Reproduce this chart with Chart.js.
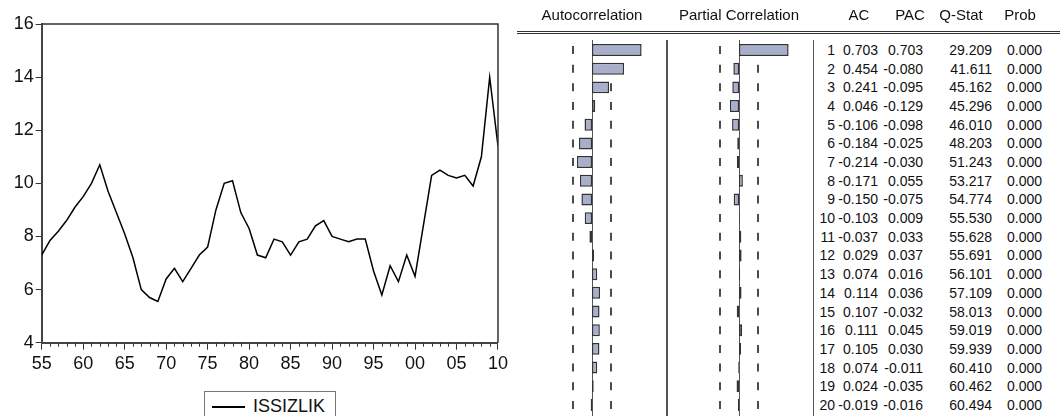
<!DOCTYPE html>
<html>
<head>
<meta charset="utf-8">
<script src="https://cdn.jsdelivr.net/npm/chart.js@4.4.0/dist/chart.umd.min.js"></script>
<style>
  html, body { margin:0; padding:0; background:#fff; width:1060px; height:416px; overflow:hidden;
    font-family:"Liberation Sans", Arial, sans-serif; color:#111; }
  #root { position:relative; width:1060px; height:416px; }
  .abs { position:absolute; }
  .txt { position:absolute; white-space:pre; font-size:14px; line-height:18px; color:#111; }
  .hdr { position:absolute; white-space:pre; font-size:15px; line-height:18px; color:#111; text-align:center; width:200px; }
</style>
</head>
<body>
<div id="root">
  <canvas id="lineChart" class="abs" width="512" height="383" style="left:0;top:0"></canvas>
  <div id="legend" class="abs" style="left:204px;top:391px;width:132px;height:30px;border:1px solid #777;box-sizing:border-box;">
    <div class="abs" style="left:7px;top:14px;width:33px;height:1.5px;background:#000"></div>
    <div id="legendText" class="abs" style="left:48px;top:4px;font-size:18px;line-height:20px;white-space:pre;color:#111"></div>
  </div>

  <div class="abs" style="left:517px;top:30.5px;width:543px;height:1px;background:#333"></div>
  <div class="abs" style="left:517px;top:33px;width:543px;height:1px;background:#333"></div>
  <div class="abs" style="left:666px;top:40px;width:1.5px;height:376px;background:#555"></div>
  <div class="abs" style="left:812.5px;top:40px;width:1.5px;height:376px;background:#555"></div>

  <canvas id="acChart" class="abs" width="144" height="376" style="left:520px;top:40px"></canvas>
  <canvas id="pacChart" class="abs" width="144" height="376" style="left:667px;top:40px"></canvas>
  <div id="table"></div>
</div>
<script>
// ---------- data ----------
const seriesName = "ISSIZLIK";
const years = [1955,1956,1957,1958,1959,1960,1961,1962,1963,1964,
               1965,1966,1967,1968,1969,1970,1971,1972,1973,1974,
               1975,1976,1977,1978,1979,1980,1981,1982,1983,1984,
               1985,1986,1987,1988,1989,1990,1991,1992,1993,1994,
               1995,1996,1997,1998,1999,2000,2001,2002,2003,2004,
               2005,2006,2007,2008,2009,2010];
const issizlik = [7.3, 7.85, 8.2, 8.6, 9.1, 9.5, 10.0, 10.7, 9.7, 8.9,
                  8.1, 7.2, 6.0, 5.7, 5.55, 6.4, 6.8, 6.3, 6.8, 7.3,
                  7.6, 9.0, 10.0, 10.1, 8.9, 8.3, 7.3, 7.2, 7.9, 7.8,
                  7.3, 7.8, 7.9, 8.4, 8.6, 8.0, 7.9, 7.8, 7.9, 7.9,
                  6.7, 5.8, 6.9, 6.3, 7.3, 6.5, 8.4, 10.3, 10.5, 10.3,
                  10.2, 10.3, 9.9, 11.0, 14.0, 11.4];
const yTicks = [4, 6, 8, 10, 12, 14, 16];

const headers = ["Autocorrelation", "Partial Correlation", "AC", "PAC", "Q-Stat", "Prob"];
const lags = [1,2,3,4,5,6,7,8,9,10,11,12,13,14,15,16,17,18,19,20];
const ac  = [0.703, 0.454, 0.241, 0.046, -0.106, -0.184, -0.214, -0.171, -0.150, -0.103,
             -0.037, 0.029, 0.074, 0.114, 0.107, 0.111, 0.105, 0.074, 0.024, -0.019];
const pac = [0.703, -0.080, -0.095, -0.129, -0.098, -0.025, -0.030, 0.055, -0.075, 0.009,
             0.033, 0.037, 0.016, 0.036, -0.032, 0.045, 0.030, -0.011, -0.035, -0.016];
const qstat = [29.209, 41.611, 45.162, 45.296, 46.010, 48.203, 51.243, 53.217, 54.774, 55.530,
               55.628, 55.691, 56.101, 57.109, 58.013, 59.019, 59.939, 60.410, 60.462, 60.494];
const prob = [0.000, 0.000, 0.000, 0.000, 0.000, 0.000, 0.000, 0.000, 0.000, 0.000,
              0.000, 0.000, 0.000, 0.000, 0.000, 0.000, 0.000, 0.000, 0.000, 0.000];
const bound = 0.267;   // 2/sqrt(56)

// ---------- line chart ----------
const FONT = "'Liberation Sans', Arial, sans-serif";
const lineFrame = {
  id: 'lineFrame',
  afterDraw(chart) {
    const {ctx, chartArea: a, scales: {x}} = chart;
    ctx.save();
    ctx.strokeStyle = '#333';
    ctx.lineWidth = 1.5;
    ctx.beginPath();
    ctx.moveTo(a.left, a.top); ctx.lineTo(a.right, a.top); ctx.lineTo(a.right, a.bottom);
    ctx.stroke();
    ctx.lineWidth = 1;
    ctx.beginPath();
    for (const yr of years) {
      if (yr % 5 !== 0) {
        const px = Math.round(x.getPixelForValue(yr)) + 0.5;
        ctx.moveTo(px, a.bottom); ctx.lineTo(px, a.bottom + 4);
      }
    }
    ctx.stroke();
    ctx.restore();
  }
};

new Chart(document.getElementById('lineChart'), {
  type: 'line',
  data: {
    datasets: [{
      label: seriesName,
      data: years.map((yr, i) => ({x: yr, y: issizlik[i]})),
      borderColor: '#000', borderWidth: 1.5, pointRadius: 0, tension: 0, fill: false
    }]
  },
  options: {
    responsive: false, animation: false,
    layout: {padding: {left: 0, right: 12.7, top: 24, bottom: 0}},
    plugins: {legend: {display: false}, tooltip: {enabled: false}},
    scales: {
      x: {
        type: 'linear', min: 1955, max: 2010,
        afterBuildTicks(s) { s.ticks = years.filter(y => y % 5 === 0).map(v => ({value: v})); },
        ticks: {callback: v => String(v % 100).padStart(2, '0'), font: {size: 18, family: FONT},
                color: '#111', padding: 4, maxRotation: 0, autoSkip: false},
        grid: {drawOnChartArea: false, tickLength: 7, color: '#333', lineWidth: 1},
        border: {color: '#444', width: 2},
        afterFit(s) { s.height = 40.3; }
      },
      y: {
        min: 4, max: 16,
        afterBuildTicks(s) { s.ticks = yTicks.map(v => ({value: v})); },
        ticks: {font: {size: 18, family: FONT}, color: '#111', padding: 2},
        grid: {drawOnChartArea: false, tickLength: 6, color: '#333', lineWidth: 1},
        border: {color: '#444', width: 2},
        afterFit(s) { s.width = 41.7; }
      }
    }
  },
  plugins: [lineFrame]
});
document.getElementById('legendText').textContent = seriesName;

// ---------- correlogram ----------
const corrGuides = {
  id: 'corrGuides',
  beforeDatasetsDraw(chart) {
    const {ctx, chartArea: a, scales: {x}} = chart;
    ctx.save();
    const x0 = Math.round(x.getPixelForValue(0)) + 0.5;
    ctx.strokeStyle = '#555'; ctx.lineWidth = 1;
    ctx.beginPath(); ctx.moveTo(x0, 0); ctx.lineTo(x0, chart.height); ctx.stroke();
    const band = (a.bottom - a.top) / lags.length;
    ctx.setLineDash([8, band - 8]);
    ctx.strokeStyle = '#111'; ctx.lineWidth = 1.5;
    for (const v of [-bound, bound]) {
      const px = Math.round(x.getPixelForValue(v));
      ctx.beginPath(); ctx.moveTo(px, a.top + band / 2 - 4); ctx.lineTo(px, a.bottom); ctx.stroke();
    }
    ctx.restore();
  }
};

function corrChart(id, values) {
  return new Chart(document.getElementById(id), {
    type: 'bar',
    data: {
      labels: lags.map(String),
      datasets: [{
        data: values, backgroundColor: '#A8AFCC', borderColor: '#333', borderWidth: 1.5,
        borderSkipped: false, barPercentage: 0.64, categoryPercentage: 1
      }]
    },
    options: {
      indexAxis: 'y', responsive: false, animation: false,
      layout: {padding: {top: 0.66, bottom: 1.74, left: 0, right: 0}},
      plugins: {legend: {display: false}, tooltip: {enabled: false}},
      scales: {x: {display: false, min: -1.02, max: 1.02}, y: {display: false}}
    },
    plugins: [corrGuides]
  });
}
const acChart = corrChart('acChart', ac);
corrChart('pacChart', pac);

// ---------- table text ----------
const root = document.getElementById('table');
const hdrCenters = [592, 739, 859, 910, 961, 1020];
headers.forEach((h, i) => {
  const d = document.createElement('div');
  d.className = 'hdr';
  d.style.left = (hdrCenters[i] - 100) + 'px';
  d.style.top = '6px';
  d.textContent = h;
  root.appendChild(d);
});
const cols = [
  {vals: lags.map(String), right: 835},
  {vals: ac.map(v => v.toFixed(3)), right: 878},
  {vals: pac.map(v => v.toFixed(3)), right: 923},
  {vals: qstat.map(v => v.toFixed(3)), right: 992},
  {vals: prob.map(v => v.toFixed(3)), right: 1042}
];
const canvasTop = 40;
lags.forEach((lag, r) => {
  const cy = canvasTop + acChart.scales.y.getPixelForValue(r);
  cols.forEach(c => {
    const s = document.createElement('div');
    s.className = 'txt';
    s.style.right = (1060 - c.right) + 'px';
    s.style.top = (cy - 9) + 'px';
    s.textContent = c.vals[r];
    root.appendChild(s);
  });
});
</script>
</body>
</html>
